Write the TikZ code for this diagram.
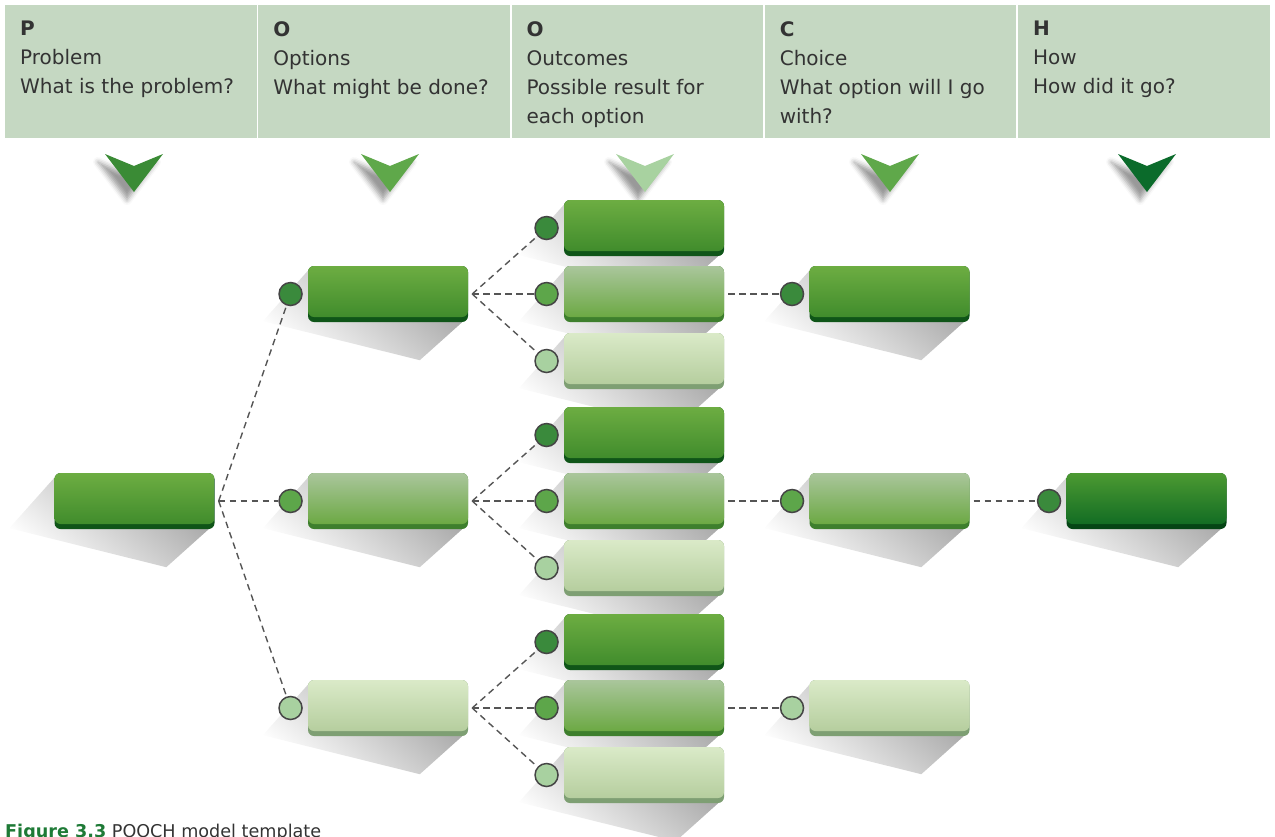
\documentclass[tikz,border=0pt]{standalone}
\usepackage{fontspec}
\setmainfont{DejaVu Sans}
\usetikzlibrary{positioning,backgrounds,shadows.blur}

\definecolor{hdrgreen}{HTML}{C5D8C2}
\definecolor{txtgray}{HTML}{333333}
\definecolor{capgreen}{HTML}{1E7A36}
\definecolor{linkgray}{HTML}{555555}
\definecolor{dotline}{HTML}{454545}
\definecolor{darktop}{HTML}{6DAD42}
\definecolor{darkbot}{HTML}{3C892A}
\definecolor{darkedge}{HTML}{0F5518}
\definecolor{midtop}{HTML}{AAC69C}
\definecolor{midbot}{HTML}{66A63B}
\definecolor{midedge}{HTML}{3E7F2D}
\definecolor{lighttop}{HTML}{DAEAC8}
\definecolor{lightbot}{HTML}{B2CB9A}
\definecolor{lightedge}{HTML}{7E9F73}
\definecolor{howtop}{HTML}{4C9A32}
\definecolor{howbot}{HTML}{0D6822}
\definecolor{howedge}{HTML}{054515}
\definecolor{dotdark}{HTML}{3A8A3C}
\definecolor{dotmid}{HTML}{5DA64A}
\definecolor{dotlight}{HTML}{A8D1A0}
\definecolor{chevA}{HTML}{3A8B35}
\definecolor{chevB}{HTML}{5FA84A}
\definecolor{chevC}{HTML}{A8D2A0}
\definecolor{chevD}{HTML}{5FA84A}
\definecolor{chevE}{HTML}{0B6B2B}

\tikzset{
  header/.style={anchor=north west, fill=hdrgreen, minimum width=251.5pt, minimum height=133pt, inner sep=0pt},
  header text/.style={anchor=north west, align=left, inner sep=0pt, text=txtgray,
    font=\fontsize{20pt}{29pt}\selectfont},
  every box/.style={minimum width=160pt, minimum height=56pt, inner sep=0pt, rounded corners=6pt},
  box/.style n args={3}{every box, fill=#3,
    path picture={\shade[top color=#1, bottom color=#2]
      (path picture bounding box.north west) rectangle ([yshift=5pt]path picture bounding box.south east);}},
  box dark/.style={box={darktop}{darkbot}{darkedge}},
  box mid/.style={box={midtop}{midbot}{midedge}},
  box light/.style={box={lighttop}{lightbot}{lightedge}},
  box how/.style={box={howtop}{howbot}{howedge}},
  dot/.style={circle, draw=dotline, line width=1.5pt, minimum size=23pt, inner sep=0pt},
  dot dark/.style={dot, fill=dotdark},
  dot mid/.style={dot, fill=dotmid},
  dot light/.style={dot, fill=dotlight},
  box shadow/.style={top color=black!36, bottom color=white, shading angle=-40},
  link/.style={draw=linkgray, line width=1.4pt, dash pattern=on 6.5pt off 4.5pt},
}

\begin{document}
\begin{tikzpicture}[x=1pt, y=-1pt]

\useasboundingbox (0,0) rectangle (1275,836);

% header row
\foreach \h/\t [count=\i] in {P/{Problem\\What is the problem?},
    O/{Options\\What might be done?},
    O/{Outcomes\\Possible result for\\each option},
    C/{Choice\\What option will I go\\with?},
    H/{How\\How did it go?}}
{
  \node [header] (hd-\i) at ({5+(\i-1)*253.2},5) {};
  \node [header text] (ht-\i) at ([xshift=15pt, yshift=-16pt]hd-\i.north west) {\textbf{\h}\\\t};
}

% chevrons
\foreach \x/\c in {134/chevA, 390/chevB, 645/chevC, 890/chevD, 1147/chevE}
  \fill [\c, blur shadow={shadow xshift=-7pt, shadow yshift=-8pt, shadow blur radius=5pt, shadow opacity=40}]
    (\x-29,154) -- (\x,166) -- (\x+29,154) -- (\x,192) -- cycle;

% boxes and dots
\node [box dark] (prob) at (134.5,501) {};

\foreach \s [count=\j] in {dark,mid,light}
{
  \node [box \s] (opt-\j) at (388,{294+(\j-1)*207}) {};
  \node [dot \s, left=5pt of opt-\j] (dot-opt-\j) {};
  \node [box \s] (cho-\j) at (889.5,{294+(\j-1)*207}) {};
  \node [dot \s, left=5pt of cho-\j] (dot-cho-\j) {};
}

\foreach \g in {1,2,3}
  \foreach \s/\dy [count=\j] in {dark/-66,mid/0,light/67}
  {
    \node [box \s] (out-\g-\j) at (644,{294+(\g-1)*207+\dy}) {};
    \node [dot \s, left=5pt of out-\g-\j] (dot-out-\g-\j) {};
  }

\node [box how] (how) at (1146.5,501) {};
\node [dot dark, left=5pt of how] (dot-how) {};

% shadows
\begin{scope}[on background layer]
\foreach \b in {prob,opt-1,opt-2,opt-3,cho-1,cho-2,cho-3,how,
    out-1-1,out-1-2,out-1-3,out-2-1,out-2-2,out-2-3,out-3-1,out-3-2,out-3-3}
  \shade [box shadow] ([yshift=-5pt]\b.north west) -- ([xshift=-45pt,yshift=1pt]\b.south west)
    -- ([xshift=112pt,yshift=-38pt]\b.south west) -- ([xshift=-6pt]\b.south east) -- cycle;
\end{scope}

% dashed links
\coordinate (prob-o) at ([xshift=4pt]prob.east);
\foreach \i in {1,2,3}
{
  \coordinate (opt-\i-o) at ([xshift=4pt]opt-\i.east);
  \coordinate (out-\i-o) at ([xshift=4pt]out-\i-2.east);
}
\coordinate (cho-o) at ([xshift=4pt]cho-2.east);

\foreach \i in {1,2,3}
  \draw [link] (prob-o) -- (dot-opt-\i);

\foreach \g in {1,2,3}
{
  \foreach \j in {1,2,3}
    \draw [link] (opt-\g-o) -- (dot-out-\g-\j);
  \draw [link] (out-\g-o) -- (dot-cho-\g);
}
\draw [link] (cho-o) -- (dot-how);

% caption
\node [anchor=base west, inner sep=0pt, text=txtgray, font=\fontsize{17.6pt}{20pt}\selectfont] (cap)
  at (5,837) {\textcolor{capgreen}{\textbf{Figure 3.3}} POOCH model template};

\end{tikzpicture}
\end{document}
